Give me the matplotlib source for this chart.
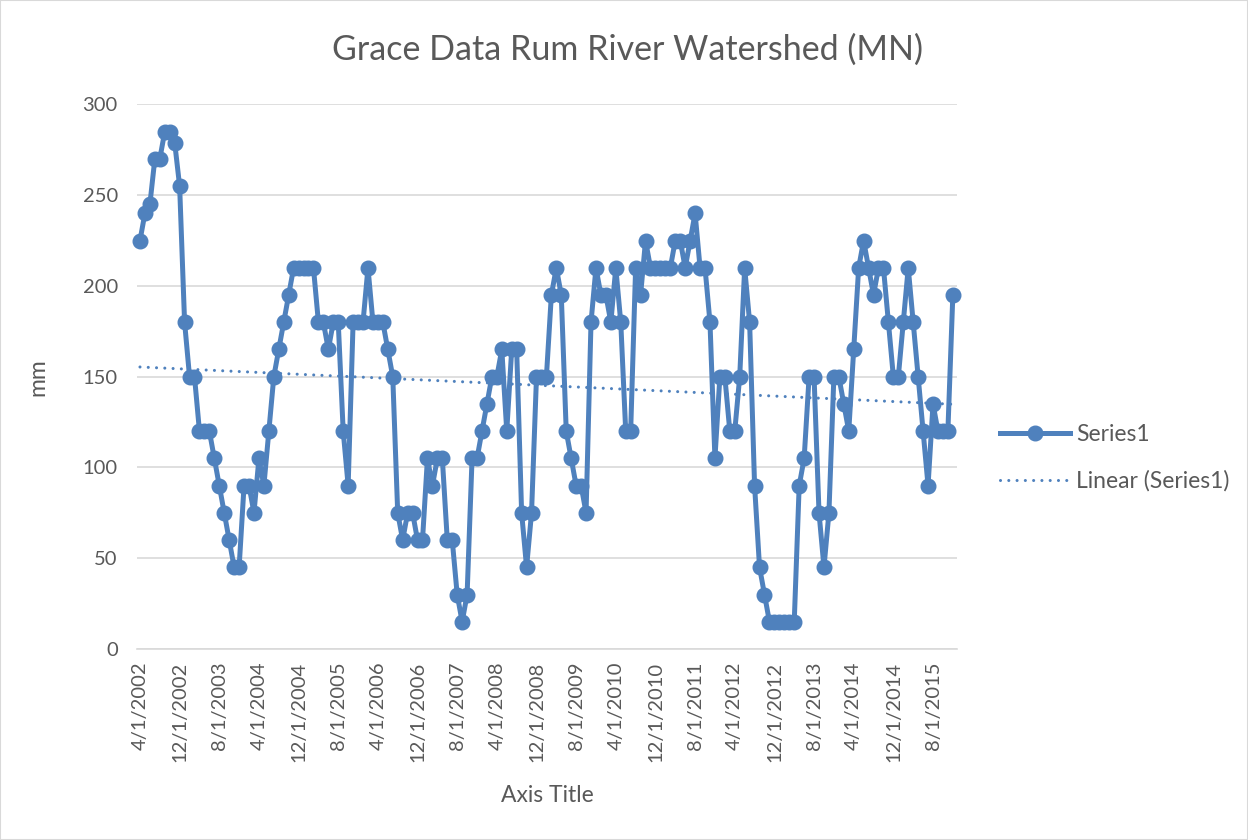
import matplotlib
matplotlib.use("Agg")
import matplotlib.pyplot as plt
from matplotlib.lines import Line2D
from matplotlib.patches import Rectangle
import numpy as np

# Monthly GRACE values (mm), first month = April 2002
values = [225, 240, 245, 270, 270, 285, 285, 279, 255, 180,
          150, 150, 120, 120, 120, 105, 90, 75, 60, 45,
          45, 90, 90, 75, 105, 90, 120, 150, 165, 180,
          195, 210, 210, 210, 210, 210, 180, 180, 165, 180,
          180, 120, 90, 180, 180, 180, 210, 180, 180, 180,
          165, 150, 75, 60, 75, 75, 60, 60, 105, 90,
          105, 105, 60, 60, 30, 15, 30, 105, 105, 120,
          135, 150, 150, 165, 120, 165, 165, 75, 45, 75,
          150, 150, 150, 195, 210, 195, 120, 105, 90, 90,
          75, 180, 210, 195, 195, 180, 210, 180, 120, 120,
          210, 195, 225, 210, 210, 210, 210, 210, 225, 225,
          210, 225, 240, 210, 210, 180, 105, 150, 150, 120,
          120, 150, 210, 180, 90, 45, 30, 15, 15, 15,
          15, 15, 15, 90, 105, 150, 150, 75, 45, 75,
          150, 150, 135, 120, 165, 210, 225, 210, 195, 210,
          210, 180, 150, 150, 180, 210, 180, 150, 120, 90,
          135, 120, 120, 120, 195]

tick_labels = ["4/1/2002", "12/1/2002", "8/1/2003", "4/1/2004", "12/1/2004",
               "8/1/2005", "4/1/2006", "12/1/2006", "8/1/2007", "4/1/2008",
               "12/1/2008", "8/1/2009", "4/1/2010", "12/1/2010", "8/1/2011",
               "4/1/2012", "12/1/2012", "8/1/2013", "4/1/2014", "12/1/2014",
               "8/1/2015"]
tick_step = 8  # months between labels

y_ticks = [0, 50, 100, 150, 200, 250, 300]

title = "Grace Data Rum River Watershed (MN)"
x_title = "Axis Title"
y_title = "mm"
series_name = "Series1"
trend_name = "Linear (Series1)"

plt.rcParams['font.family'] = ['Lato', 'DejaVu Sans']
blue = "#4F81BD"
txt = "#595959"
grid = "#D9D9D9"

W, H = 1248, 840
fig = plt.figure(figsize=(W / 100, H / 100), dpi=100)
ax = fig.add_axes([137.3 / W, 1 - 649 / H, (957.3 - 137.3) / W, (649 - 104.4) / H])

x = np.arange(len(values))
ax.plot(x, values, color=blue, lw=3.6, marker='o', ms=10.5, zorder=3,
        solid_joinstyle='round', clip_on=False)

coef = np.polyfit(x, values, 1)
tx = np.array([x[0], x[-1]])
ax.plot(tx, np.polyval(coef, tx), color=blue, lw=2.2,
        linestyle=(0, (0.01, 2.7)), dash_capstyle='round', zorder=2)

ax.set_xlim(-0.54, 164.9)
ax.set_ylim(0, 300)
ax.set_yticks(y_ticks)
ax.set_yticklabels([str(v) for v in y_ticks])
ax.set_xticks(np.arange(0, tick_step * len(tick_labels), tick_step))
ax.set_xticklabels(tick_labels, rotation=90)
ax.grid(axis='y', color=grid, lw=1.2)
ax.set_axisbelow(True)
for s in ['top', 'right', 'left']:
    ax.spines[s].set_visible(False)
ax.spines['bottom'].set_color(grid)
ax.spines['bottom'].set_linewidth(1.2)
ax.tick_params(axis='both', length=0, colors=txt, labelsize=14.5)
ax.tick_params(axis='y', pad=14)
ax.tick_params(axis='x', pad=9)

ax.set_xlabel(x_title, fontsize=16.5, color=txt, labelpad=16.5)
ax.set_ylabel(y_title, fontsize=16.5, color=txt, labelpad=25)

fig.text(627 / W, 1 - 50 / H, title, fontsize=24.5, color=txt,
         ha='center', va='center')

handles = [Line2D([], [], color=blue, lw=3.6, marker='o', ms=10.5),
           Line2D([], [], color=blue, lw=2.2, linestyle=(0, (0.01, 2.7)),
                  dash_capstyle='round')]
fig.legend(handles, [series_name, trend_name], loc='center left',
           bbox_to_anchor=(979 / W, 1 - 458 / H), frameon=False,
           fontsize=16.5, labelcolor=txt, handlelength=3.05, handletextpad=0.3,
           labelspacing=1.1, numpoints=1)

fig.patches.append(Rectangle((0, 0), 1, 1, transform=fig.transFigure,
                             fill=False, edgecolor=grid, lw=1.5))

fig.savefig("out.png", dpi=100, facecolor="white")
